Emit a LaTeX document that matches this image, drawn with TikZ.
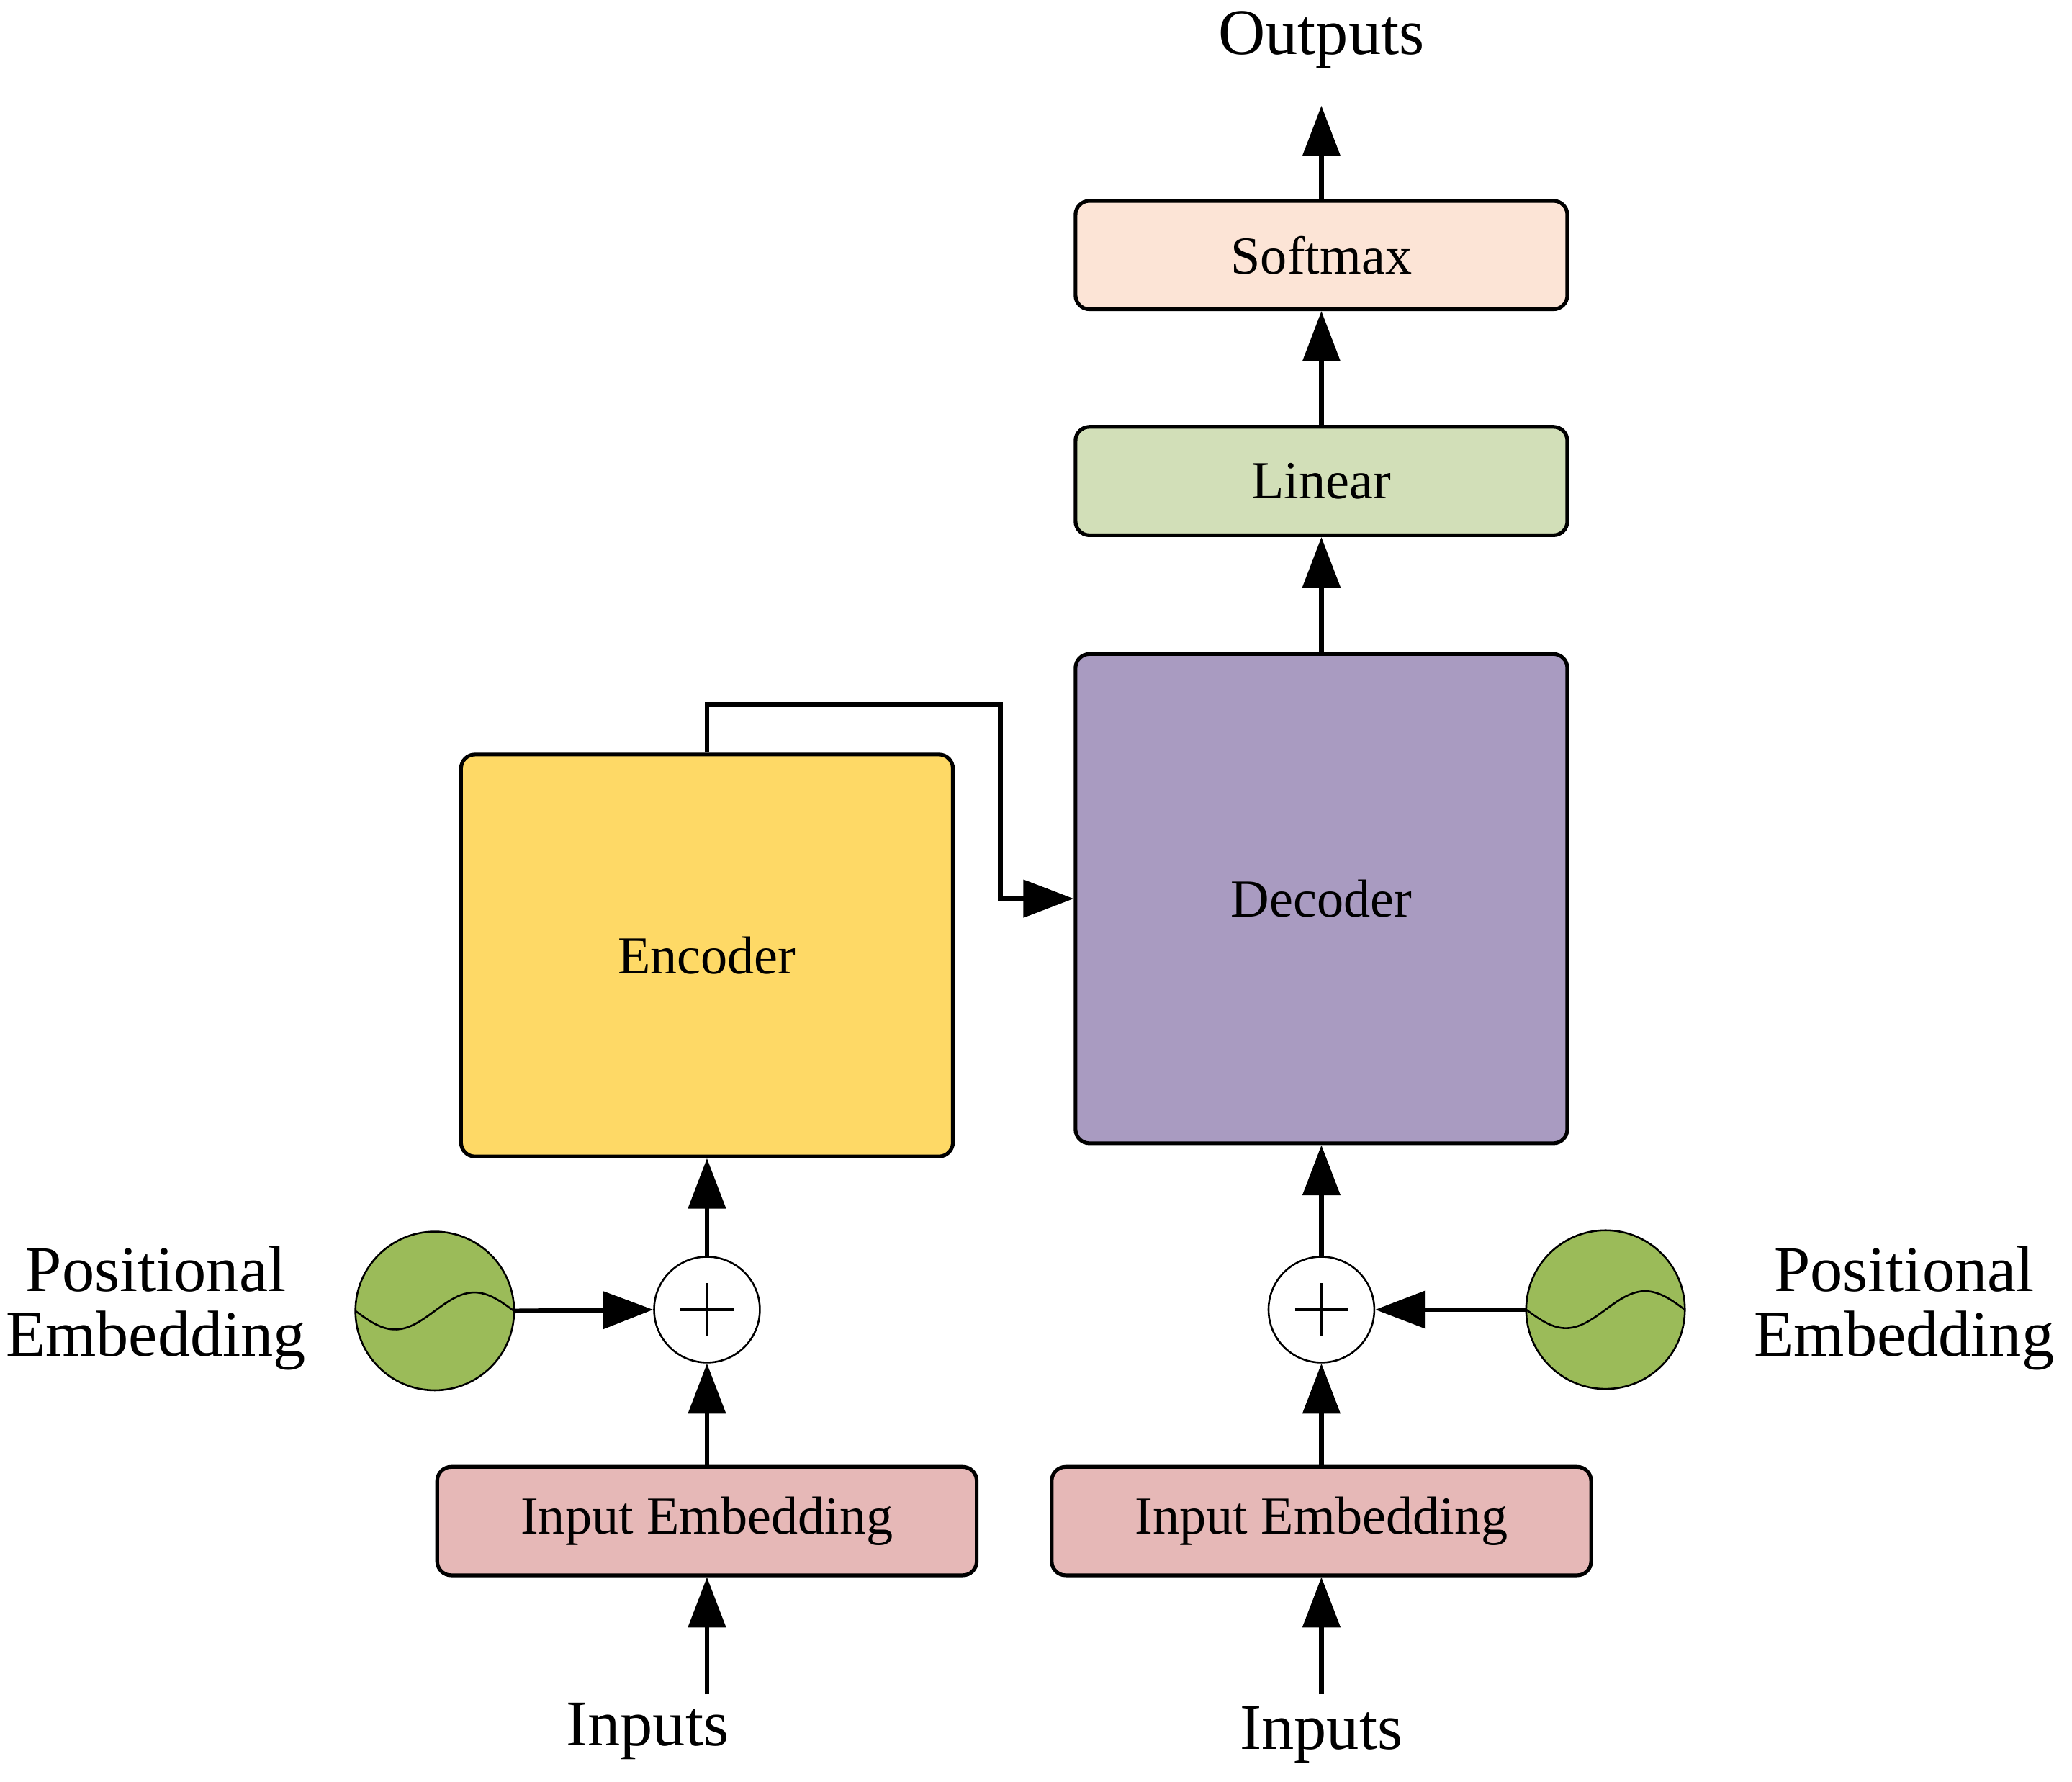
\documentclass[tikz,border=0pt]{standalone}
\usepackage{fontspec}
\setmainfont{Liberation Serif}
\usetikzlibrary{arrows.meta}
\definecolor{peach}{HTML}{FCE4D6}
\definecolor{lin}{HTML}{D2DFB8}
\definecolor{dec}{HTML}{A99BC1}
\definecolor{enc}{HTML}{FED966}
\definecolor{emb}{HTML}{E6B8B7}
\definecolor{grn}{HTML}{9BBB59}
\begin{document}
\begin{tikzpicture}[x=0.01cm,y=-0.01cm,
  box/.style={draw,line width=0.8pt,rounded corners=3pt,font=\fontsize{11.5}{14}\selectfont,inner sep=0pt},
  arr/.style={line width=1pt,-{Triangle[length=0.38cm,width=0.28cm]}},
  plus/.style={draw,circle,minimum size=0.8cm,inner sep=0pt,line width=0.4pt},
  pe/.style={draw,circle,fill=grn,minimum size=1.2cm,inner sep=0pt,line width=0.4pt},
  lab/.style={font=\fontsize{14}{16}\selectfont,align=center}]
\useasboundingbox (0,0) rectangle (1568,1348);
\node[box,fill=peach,minimum width=3.72cm,minimum height=0.82cm] (soft) at (1000,193) {Softmax};
\node[box,fill=lin,minimum width=3.72cm,minimum height=0.82cm] (lin) at (1000,364) {Linear};
\node[box,fill=dec,minimum width=3.72cm,minimum height=3.7cm] (dec) at (1000,680) {Decoder};
\node[box,fill=enc,minimum width=3.72cm,minimum height=3.04cm] (enc) at (535,723) {Encoder};
\node[box,fill=emb,minimum width=4.08cm,minimum height=0.82cm] (ie1) at (535,1151) {Input Embedding};
\node[box,fill=emb,minimum width=4.08cm,minimum height=0.82cm] (ie2) at (1000,1151) {Input Embedding};
\node[plus] (p1) at (535,991) {};
\node[plus] (p2) at (1000,991) {};
\draw[line width=0.6pt] (p1.center) +(-20,0) -- +(20,0) (p1.center) +(0,-20) -- +(0,20);
\draw[line width=0.6pt] (p2.center) +(-20,0) -- +(20,0) (p2.center) +(0,-20) -- +(0,20);
\node[pe] (g1) at (329,992) {};
\node[pe] (g2) at (1215,991) {};
\draw[line width=0.4pt,shift={(329,992)}] plot[domain=-60:60,samples=40,smooth] (\x,{-14*sin(3*\x)});
\draw[line width=0.4pt,shift={(1215,991)}] plot[domain=-60:60,samples=40,smooth] (\x,{-14*sin(3*\x)});
\node[lab] (out) at (1000,30) {Outputs};
\node[lab] (in1) at (490,1310) {Inputs};
\node[lab] (in2) at (1000,1313) {Inputs};
\node[lab] (pl) at (118,990) {Positional\\[-2pt]Embedding};
\node[lab] (pr) at (1441,990) {Positional\\[-2pt]Embedding};
\coordinate (o) at (1000,80);
\coordinate (i1) at (535,1282);
\coordinate (i2) at (1000,1282);
\draw[arr] (soft.north) -- (o);
\draw[arr] (lin.north) -- (soft.south);
\draw[arr] (dec.north) -- (lin.south);
\draw[arr] (p2.north) -- (dec.south);
\draw[arr] (p1.north) -- (enc.south);
\draw[arr] (ie1.north) -- (p1.south);
\draw[arr] (ie2.north) -- (p2.south);
\draw[arr] (i1) -- (ie1.south);
\draw[arr] (i2) -- (ie2.south);
\draw[arr] (g1.east) -- (p1.west);
\draw[arr] (g2.west) -- (p2.east);
\draw[arr] (enc.north) -- (535,533) -- (757,533) -- (757,680) -- (dec.west);
\end{tikzpicture}
\end{document}
